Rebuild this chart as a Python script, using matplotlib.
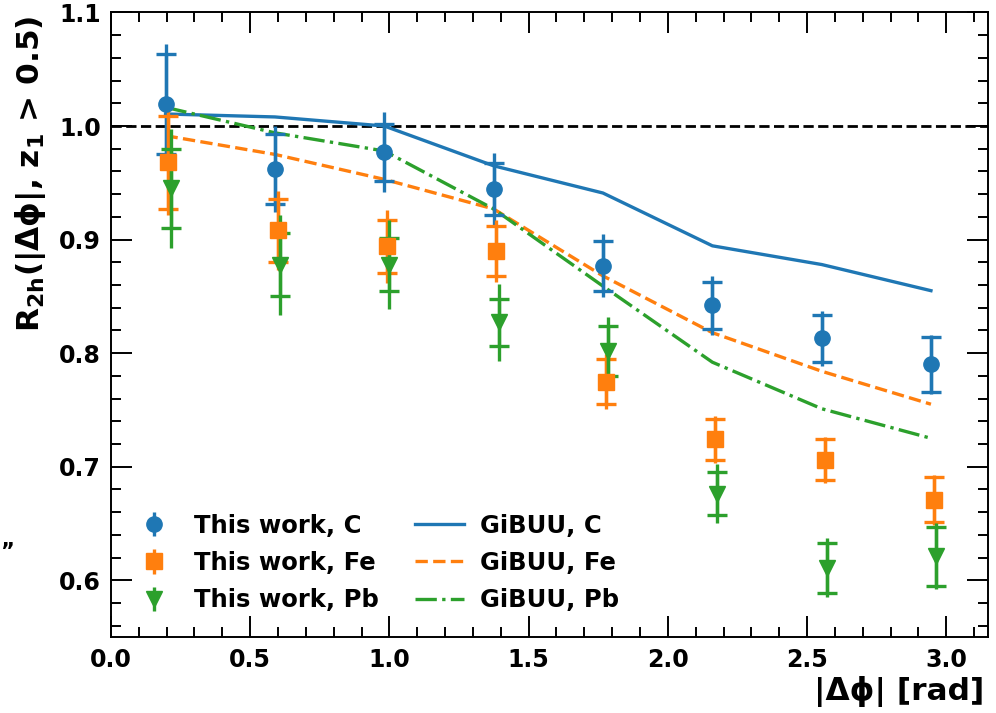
import numpy as np
import matplotlib
matplotlib.use('Agg')
import matplotlib.pyplot as plt
from matplotlib.ticker import MultipleLocator

# bin centres in |dphi|
dphi = [0.196, 0.589, 0.982, 1.374, 1.767, 2.160, 2.553, 2.945]

# this work: value, stat error (capped) and total error (bar only)
r_c = [1.019, 0.962, 0.977, 0.9445, 0.877, 0.842, 0.813, 0.790]
stat_c = [0.044, 0.031, 0.025, 0.023, 0.022, 0.021, 0.021, 0.024]
tot_c = [0.053, 0.038, 0.035, 0.032, 0.028, 0.026, 0.024, 0.026]

r_fe = [0.968, 0.908, 0.894, 0.890, 0.775, 0.724, 0.706, 0.671]
stat_fe = [0.041, 0.028, 0.023, 0.022, 0.020, 0.018, 0.018, 0.020]
tot_fe = [0.046, 0.035, 0.032, 0.027, 0.024, 0.021, 0.020, 0.022]

r_pb = [0.945, 0.878, 0.878, 0.827, 0.802, 0.676, 0.611, 0.621]
stat_pb = [0.035, 0.028, 0.023, 0.021, 0.022, 0.019, 0.022, 0.026]
tot_pb = [0.052, 0.044, 0.039, 0.034, 0.030, 0.026, 0.026, 0.029]

# GiBUU predictions
gibuu_c = [1.0106, 1.008, 1.000, 0.965, 0.941, 0.8945, 0.878, 0.855]
gibuu_fe = [0.9915, 0.975, 0.953, 0.927, 0.868, 0.818, 0.784, 0.755]
gibuu_pb = [1.0165, 0.994, 0.978, 0.927, 0.859, 0.792, 0.751, 0.725]

plt.rcParams['font.family'] = 'DejaVu Sans'
plt.rcParams['font.weight'] = 'bold'
plt.rcParams['axes.labelweight'] = 'bold'
plt.rcParams['mathtext.default'] = 'bf'

fig = plt.figure(figsize=(9.96, 7.13), dpi=100)
ax = fig.add_axes([0.1114, 0.1066, 0.8806, 0.8759])

ax.axhline(1.0, color='k', ls='--', lw=2.0, zorder=1)

l_c, = ax.plot(dphi, gibuu_c, color='tab:blue', lw=2.4, label='GiBUU, C')
l_fe, = ax.plot(dphi, gibuu_fe, color='tab:orange', lw=2.4, ls='--', label='GiBUU, Fe')
l_pb, = ax.plot(dphi, gibuu_pb, color='tab:green', lw=2.4, ls='-.', label='GiBUU, Pb')

handles = []
sets = [(r_c, stat_c, tot_c, 'o', 'tab:blue', 0.0, 'This work, C'),
        (r_fe, stat_fe, tot_fe, 's', 'tab:orange', 0.01, 'This work, Fe'),
        (r_pb, stat_pb, tot_pb, 'v', 'tab:green', 0.018, 'This work, Pb')]
for r, st, tot, m, col, shift, lab in sets:
    x = np.array(dphi) + shift
    eb = ax.errorbar(x, r, yerr=tot, fmt=m, color=col, ms=11,
                     elinewidth=2.4, capsize=0, label=lab, zorder=3)
    ax.errorbar(x, r, yerr=st, fmt='none', ecolor=col, elinewidth=2.4,
                capsize=7, capthick=2.4, zorder=3)
    handles.append(eb)

handles += [l_c, l_fe, l_pb]
ax.legend(handles=handles, ncol=2, frameon=False, fontsize=17.5,
          loc='lower left', bbox_to_anchor=(0.01, 0.024), borderaxespad=0,
          labelspacing=0.55, columnspacing=1.5, handletextpad=0.65)

ax.set_xlim(0, 3.15)
ax.set_ylim(0.55, 1.1)
ax.xaxis.set_major_locator(MultipleLocator(0.5))
ax.xaxis.set_minor_locator(MultipleLocator(0.1))
ax.yaxis.set_major_locator(MultipleLocator(0.1))
ax.yaxis.set_minor_locator(MultipleLocator(0.02))
ax.tick_params(which='both', direction='in', top=True, right=True, width=1.4)
ax.tick_params(which='major', length=15, labelsize=17)
ax.tick_params(which='minor', length=7.5)
ax.tick_params(axis='x', pad=8)
ax.tick_params(axis='y', pad=7)
for s in ax.spines.values():
    s.set_linewidth(1.4)

ax.set_xlabel('|Δϕ| [rad]', fontsize=22.5, loc='right')
ax.xaxis.set_label_coords(0.996, -0.062)
ax.set_ylabel(r'R$_{2h}$(|Δϕ|, z$_1$ > 0.5)', fontsize=22.5, loc='top')
ax.yaxis.set_label_coords(-0.072, 0.995)

fig.text(0.0, 1 - 552 / 713, '”', fontsize=15, ha='left', va='center')

fig.savefig('out.png', dpi=100)
